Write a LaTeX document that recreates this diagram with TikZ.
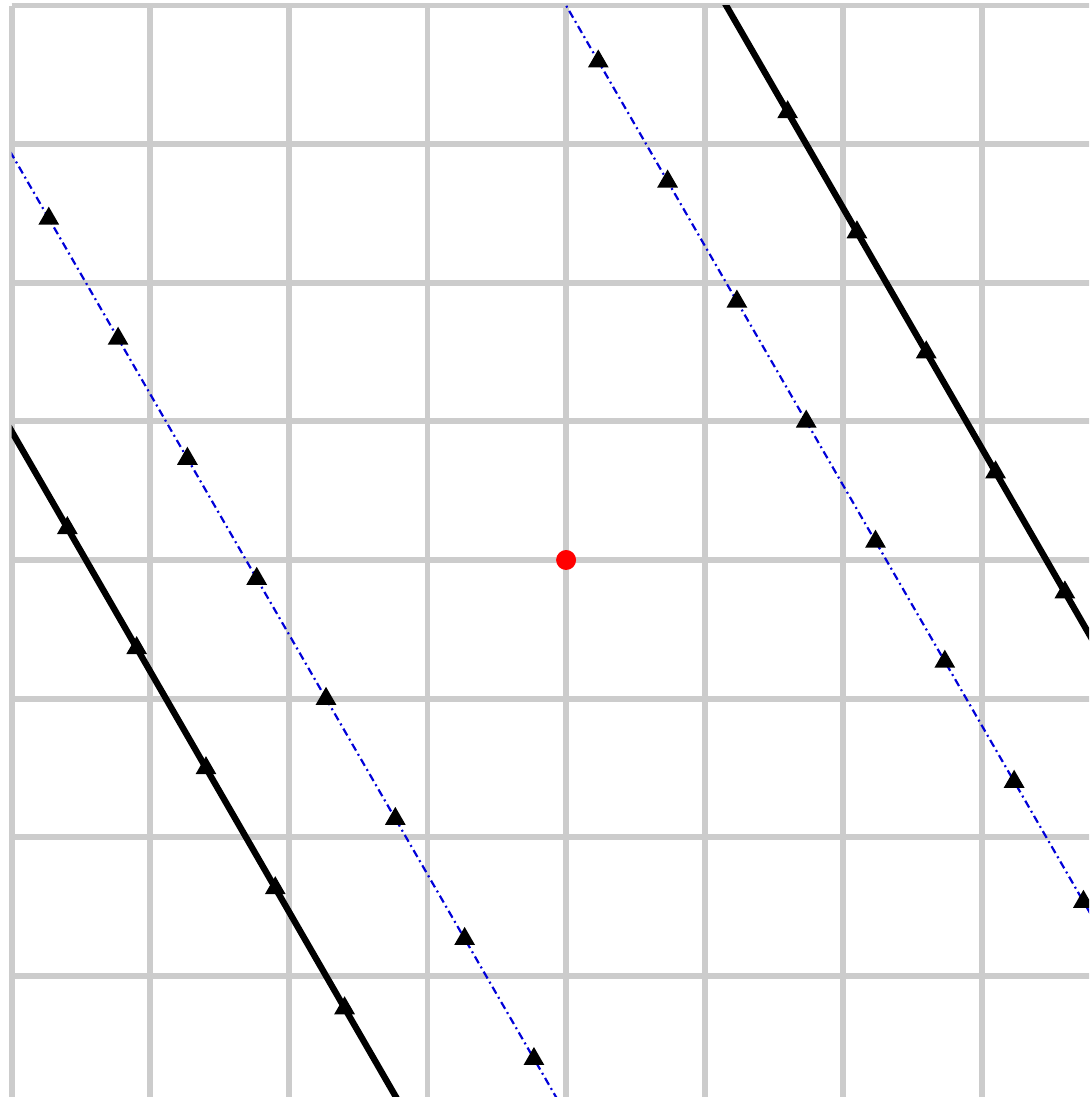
\documentclass[tikz,border=0pt]{standalone}
\usepackage{tikz}
\usetikzlibrary{calc}

\begin{document}
\begin{tikzpicture}[x=1cm, y=1cm]
  \tikzstyle{gridline}=[line width=1.2pt, black!20]
  \tikzstyle{solidline}=[line width=1.3pt, black]
  \tikzstyle{dashline}=[line width=0.45pt, blue!85!black, dash pattern=on 1.6pt off 0.8pt on 0.4pt off 0.8pt]
  \tikzstyle{marker}=[fill=black]
  \useasboundingbox (-4.084,-3.874) rectangle (3.773,4.040);
  \clip (-4.084,-3.874) rectangle (3.773,4.040);
  \fill[white] (-4.084,-3.874) rectangle (3.773,4.040);
  % grid
  \draw[gridline] (-4,-4) grid (4,4);
  % lines sqrt(3) x + y = c, with marks every unit
  \begin{scope}
    \clip (-4,-3.874) rectangle (3.773,4);
    \foreach \c/\sty in {-6/solidline, -4/dashline, 4/dashline, 6/solidline} {
      \coordinate (foot) at ({\c/2*sqrt(3)/2}, {\c/2*0.5});
      \draw[\sty] ($(foot)+(3,{-3*sqrt(3)})$) -- ($(foot)+(-3,{3*sqrt(3)})$);
      \foreach \t in {-5,...,5} {
        \coordinate (m) at ($(foot)+({-\t/2},{\t*sqrt(3)/2})$);
        \fill[marker] ($(m)+(-0.075,-0.045)$) -- ++(0.15,0) -- ++(-0.075,0.13) -- cycle;
      }
    }
  \end{scope}
  % origin
  \fill[red] (0,0) circle (0.072);
\end{tikzpicture}
\end{document}
